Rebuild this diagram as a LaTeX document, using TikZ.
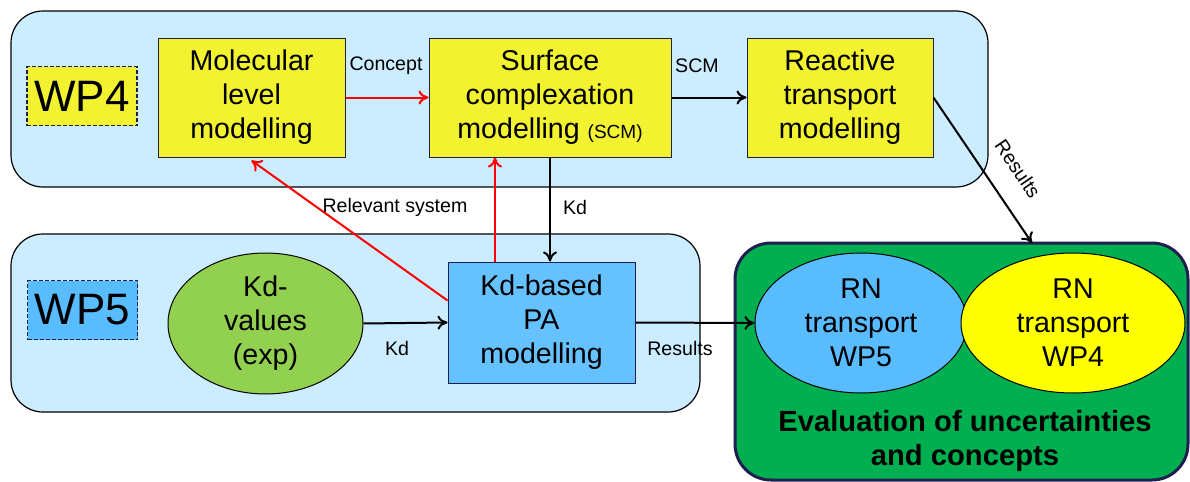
\documentclass[tikz,border=0pt]{standalone}
\usepackage{fontspec}
\setmainfont{Liberation Sans}
\usetikzlibrary{shapes.geometric,arrows.meta}
\definecolor{wpback}{RGB}{204,236,255}
\definecolor{boxyellow}{RGB}{242,242,48}
\definecolor{pureyellow}{RGB}{255,255,0}
\definecolor{kdblue}{RGB}{102,194,255}
\definecolor{wpblue}{RGB}{88,188,255}
\definecolor{kdgreen}{RGB}{146,208,80}
\definecolor{evalgreen}{RGB}{0,176,80}
\definecolor{navy}{RGB}{31,31,80}
\begin{document}
\begin{tikzpicture}[x=0.5pt,y=-0.5pt,
  area/.style={draw=black, line width=0.6pt, fill=wpback, rounded corners=16pt},
  wplabel/.style={draw=navy, dash pattern=on 2pt off 1pt, line width=0.8pt, minimum width=55pt, minimum height=29.5pt, font=\fontsize{22}{24}\selectfont},
  task/.style={draw=navy, line width=0.5pt, align=center, minimum height=59.5pt, inner sep=1pt, font=\fontsize{14.3}{17}\selectfont},
  blob/.style={ellipse, draw=black, line width=0.5pt, align=center, inner sep=0pt, font=\fontsize{14.3}{17}\selectfont},
  lbl/.style={font=\fontsize{9.8}{11}\selectfont, inner sep=1pt},
  flow/.style={-{To[length=5pt,width=7pt]}, line width=1pt},
  redflow/.style={flow, red}]
\useasboundingbox (0,0) rectangle (1190,482);
\node[area, minimum width=488.5pt, minimum height=88pt] (WP4_Area) at (499.5, 99) {};
\node[area, minimum width=344.5pt, minimum height=89pt] (WP5_Area) at (355.5, 323) {};
\node[draw=navy, line width=1.5pt, fill=evalgreen, rounded corners=18pt, minimum width=226.5pt, minimum height=118.5pt] (Evaluation_Area) at (961.5, 361.5) {};
\node[wplabel, fill=boxyellow] (WP4) at (82, 96) {WP4};
\node[wplabel, fill=wpblue] (WP5) at (82.5, 310) {WP5};
\node[task, fill=boxyellow, minimum width=93.5pt] (Molecular_Level_Modelling) at (251.5, 97.5) {Molecular\\level\\modelling};
\node[task, fill=boxyellow, minimum width=121pt] (Surface_Complexation_Modelling) at (550, 97.5) {Surface\\complexation\\modelling {\fontsize{9.5}{10}\selectfont(SCM)}};
\node[task, fill=boxyellow, minimum width=93pt] (Reactive_Transport_Modelling) at (840, 97.5) {Reactive\\transport\\modelling};
\node[blob, fill=kdgreen, minimum width=97.5pt, minimum height=70.5pt] (Kd_Values) at (265.5, 323.5) {Kd-\\values\\(exp)};
\node[task, fill=kdblue, minimum width=93.5pt, minimum height=60.5pt] (Kd_Based_PA_Modelling) at (541.5, 322.5) {Kd-based\\PA\\modelling};
\node[blob, fill=wpblue, minimum width=106pt, minimum height=70pt] (RN_Transport_WP5) at (861, 323) {RN\\transport\\WP5};
\node[blob, fill=pureyellow, minimum width=112pt, minimum height=70pt] (RN_Transport_WP4) at (1073, 323) {RN\\transport\\WP4};
\node[align=center, font=\bfseries\fontsize{14.6}{17}\selectfont] (Evaluation) at (965, 441) {Evaluation of uncertainties\\and concepts};
\coordinate (Results_End) at (1032, 243);
\draw[redflow] (Molecular_Level_Modelling.east) -- (Surface_Complexation_Modelling.west);
\draw[flow] (Surface_Complexation_Modelling.east) -- (Reactive_Transport_Modelling.west);
\draw[flow] (Reactive_Transport_Modelling.east) -- (Results_End);
\draw[flow] (Surface_Complexation_Modelling.south) -- (Surface_Complexation_Modelling.south |- Kd_Based_PA_Modelling.north);
\draw[redflow] ([xshift=-23.25pt]Kd_Based_PA_Modelling.north) -- ([xshift=-23.25pt]Kd_Based_PA_Modelling.north |- Surface_Complexation_Modelling.south);
\draw[redflow] ([yshift=11pt]Kd_Based_PA_Modelling.west) -- ([yshift=-1.5pt]Molecular_Level_Modelling.south);
\draw[flow] (Kd_Values.east) -- (Kd_Based_PA_Modelling.west);
\draw[flow] (Kd_Based_PA_Modelling.east) -- (RN_Transport_WP5.west);
\node[lbl] (Concept_Label) at (386, 66) {Concept};
\node[lbl] (SCM_Label) at (697, 66) {SCM};
\node[lbl, rotate=-56] (Results_Label_WP4) at (1018, 169) {Results};
\node[lbl] (Kd_Label_Down) at (575, 207) {Kd};
\node[lbl] (Relevant_System_Label) at (395, 207) {Relevant system};
\node[lbl] (Kd_Label) at (397, 348) {Kd};
\node[lbl] (Results_Label_PA) at (680, 348) {Results};
\end{tikzpicture}
\end{document}
